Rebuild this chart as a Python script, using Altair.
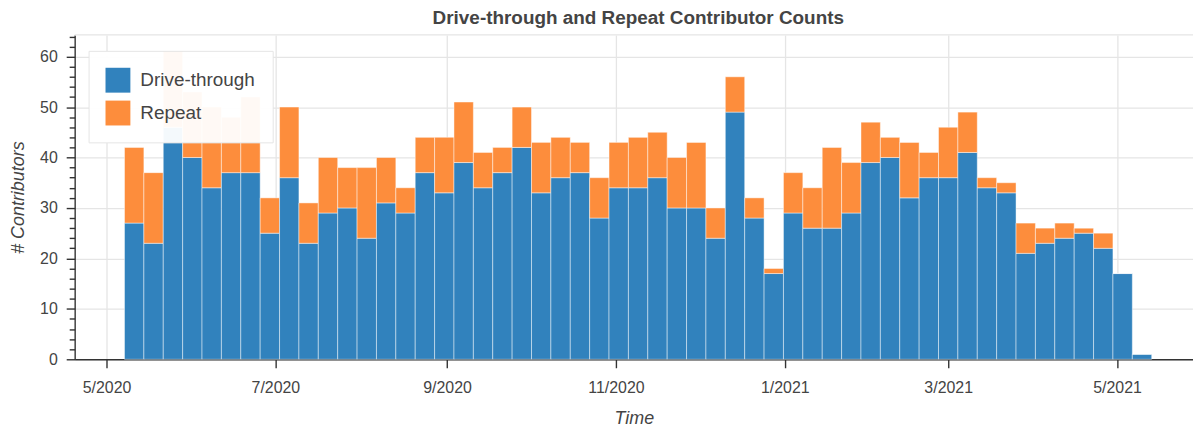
import altair as alt
import pandas as pd

# Week (Monday) of each bar
weeks = [
    "2020-05-11", "2020-05-18", "2020-05-25", "2020-06-01", "2020-06-08", "2020-06-15",
    "2020-06-22", "2020-06-29", "2020-07-06", "2020-07-13", "2020-07-20", "2020-07-27",
    "2020-08-03", "2020-08-10", "2020-08-17", "2020-08-24", "2020-08-31", "2020-09-07",
    "2020-09-14", "2020-09-21", "2020-09-28", "2020-10-05", "2020-10-12", "2020-10-19",
    "2020-10-26", "2020-11-02", "2020-11-09", "2020-11-16", "2020-11-23", "2020-11-30",
    "2020-12-07", "2020-12-14", "2020-12-21", "2020-12-28", "2021-01-04", "2021-01-11",
    "2021-01-18", "2021-01-25", "2021-02-01", "2021-02-08", "2021-02-15", "2021-02-22",
    "2021-03-01", "2021-03-08", "2021-03-15", "2021-03-22", "2021-03-29", "2021-04-05",
    "2021-04-12", "2021-04-19", "2021-04-26", "2021-05-03", "2021-05-10",
]
drive_through = [
    27, 23, 46, 40, 34, 37, 37, 25, 36, 23, 29, 30, 24, 31, 29, 37, 33, 39, 34, 37,
    42, 33, 36, 37, 28, 34, 34, 36, 30, 30, 24, 49, 28, 17, 29, 26, 26, 29, 39, 40,
    32, 36, 36, 41, 34, 33, 21, 23, 24, 25, 22, 17, 1,
]
totals = [
    42, 37, 61, 53, 50, 48, 52, 32, 50, 31, 40, 38, 38, 40, 34, 44, 44, 51, 41, 42,
    50, 43, 44, 43, 36, 43, 44, 45, 40, 43, 30, 56, 32, 18, 37, 34, 42, 39, 47, 44,
    43, 41, 46, 49, 36, 35, 27, 26, 27, 26, 25, 17, 1,
]
repeat = [t - d for t, d in zip(totals, drive_through)]

series_names = ["Drive-through", "Repeat"]
series_colors = ["#3182bd", "#fd8d3c"]
tick_months = [(2020, 5), (2020, 7), (2020, 9), (2020, 11), (2021, 1), (2021, 3), (2021, 5)]

centers = pd.to_datetime(weeks)
starts = (centers - pd.Timedelta(hours=84)).strftime("%Y-%m-%dT%H:%M:%SZ")
ends = (centers + pd.Timedelta(hours=84)).strftime("%Y-%m-%dT%H:%M:%SZ")

rows = []
for i in range(len(weeks)):
    rows.append({"start": starts[i], "end": ends[i], "series": "Drive-through",
                 "count": drive_through[i], "order": 0})
    rows.append({"start": starts[i], "end": ends[i], "series": "Repeat",
                 "count": repeat[i], "order": 1})
df = pd.DataFrame(rows)

x_domain = [
    alt.DateTime(year=2020, month=4, date=19, hours=12, utc=True),
    alt.DateTime(year=2021, month=5, date=28, hours=10, utc=True),
]
x_values = [alt.DateTime(year=y, month=m, date=1, utc=True) for y, m in tick_months]

is_major = "datum.value % 10 === 0"

bars = (
    alt.Chart(df)
    .transform_stack(
        stack="count",
        groupby=["start"],
        sort=[alt.SortField("order", order="ascending")],
        as_=["y0", "y1"],
    )
    .mark_bar(stroke="white", strokeWidth=1, strokeOpacity=0.45)
    .encode(
        x=alt.X(
            "start:T",
            title="Time",
            scale=alt.Scale(type="utc", domain=x_domain),
            axis=alt.Axis(values=x_values, format="%-m/%Y", tickSize=8.5, labelPadding=12,
                          titlePadding=14, labelFlush=False),
        ),
        x2="end:T",
        y=alt.Y(
            "y0:Q",
            title="# Contributors",
            scale=alt.Scale(domain=[0, 64.3], nice=False),
            axis=alt.Axis(
                values=list(range(0, 65, 2)),
                labelExpr=is_major + " ? datum.label : ''",
                tickSize={"condition": {"test": is_major, "value": 8.5}, "value": 5.5},
                gridOpacity={"condition": {"test": is_major, "value": 1}, "value": 0},
                labelPadding=9,
                titlePadding=12,
            ),
        ),
        y2="y1:Q",
        color=alt.Color(
            "series:N",
            scale=alt.Scale(domain=series_names, range=series_colors),
            legend=alt.Legend(
                title=None,
                orient="none",
                legendX=14,
                legendY=16,
                padding=17,
                fillColor="rgba(255,255,255,0.95)",
                strokeColor="#e5e5e5",
                symbolType="square",
                symbolSize=625,
                symbolStrokeWidth=0,
                symbolOpacity=1,
                labelFontSize=19,
                labelColor="#444444",
                labelFont="Liberation Sans",
                labelOffset=10,
                rowPadding=8,
                cornerRadius=0,
            ),
        ),
    )
)

frame_top = alt.Chart(pd.DataFrame({"a": [0]})).mark_rule(
    color="#e5e5e5", strokeWidth=1.3
).encode(y=alt.value(0))

chart = (
    alt.layer(frame_top, bars)
    .properties(
        width=1124,
        height=326,
        autosize=alt.AutoSizeParams(type="none"),
        padding={"left": 67, "top": 26, "right": 0, "bottom": 70},
        title=alt.TitleParams(
            "Drive-through and Repeat Contributor Counts",
            fontSize=19,
            fontWeight="bold",
            font="Liberation Sans",
            color="#444444",
            anchor="middle",
            frame="group",
            dx=4.5,
            offset=6,
        ),
    )
    .configure_view(stroke=None)
    .configure_axis(
        domainColor="#333333",
        domainWidth=1.4,
        tickColor="#333333",
        tickWidth=1.4,
        gridColor="#e5e5e5",
        gridWidth=1.3,
        labelFont="Liberation Sans",
        labelFontSize=16,
        labelColor="#444444",
        titleFont="Liberation Sans",
        titleFontSize=18,
        titleFontStyle="italic",
        titleFontWeight="normal",
        titleColor="#444444",
    )
)

chart.save("out.html", embed_options={"renderer": "svg", "actions": False})
